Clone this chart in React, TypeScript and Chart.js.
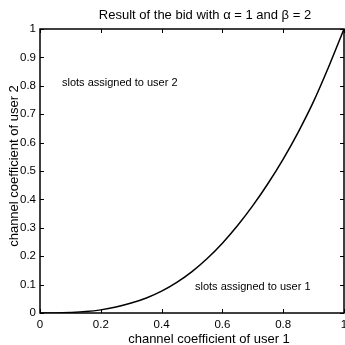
import React, { useEffect, useRef } from "react";
import { Chart, registerables } from "chart.js";

Chart.register(...registerables);

const xValues = [0, 0.05, 0.1, 0.15, 0.2, 0.25, 0.3, 0.35, 0.4, 0.45, 0.5, 0.55, 0.6, 0.65, 0.7, 0.75, 0.8, 0.85, 0.9, 0.95, 1.0];
const yValues = [0, 0.0003, 0.002, 0.005, 0.011, 0.021, 0.035, 0.053, 0.077, 0.108, 0.146, 0.192, 0.246, 0.308, 0.378, 0.456, 0.542, 0.638, 0.745, 0.868, 1.0];

const titleText = "Result of the bid with \u03B1 = 1 and \u03B2 = 2";
const xTitle = "channel coefficient of user 1";
const yTitle = "channel coefficient of user 2";
const note1 = "slots assigned to user 1";
const note2 = "slots assigned to user 2";

const FONT = "'Liberation Sans', Arial, Helvetica, sans-serif";

const fmt = (v: number) => String(Number(v.toFixed(1)));

const decorPlugin = {
  id: "decor",
  afterDraw(chart: any) {
    const ctx = chart.ctx;
    const { left, right, top, bottom } = chart.chartArea;
    const xs = chart.scales.x;
    const ys = chart.scales.y;
    ctx.save();
    ctx.strokeStyle = "#000";
    ctx.lineWidth = 1.5;
    ctx.strokeRect(left, top, right - left, bottom - top);
    ctx.lineWidth = 1;
    const tl = 4;
    ctx.beginPath();
    xs.ticks.forEach((t: any) => {
      const px = Math.round(xs.getPixelForValue(t.value)) + 0.5;
      ctx.moveTo(px, bottom);
      ctx.lineTo(px, bottom - tl);
      ctx.moveTo(px, top);
      ctx.lineTo(px, top + tl);
    });
    ys.ticks.forEach((t: any) => {
      const py = Math.round(ys.getPixelForValue(t.value)) + 0.5;
      ctx.moveTo(left, py);
      ctx.lineTo(left + tl, py);
      ctx.moveTo(right, py);
      ctx.lineTo(right - tl, py);
    });
    ctx.stroke();

    ctx.fillStyle = "#000";
    ctx.textBaseline = "alphabetic";
    ctx.textAlign = "center";
    ctx.font = `13px ${FONT}`;
    ctx.fillText(titleText, 205, 18.5);
    ctx.fillText(xTitle, 209, 343);
    ctx.save();
    ctx.translate(18, 166);
    ctx.rotate(-Math.PI / 2);
    ctx.fillText(yTitle, 0, 0);
    ctx.restore();

    ctx.font = `11px ${FONT}`;
    ctx.textAlign = "left";
    ctx.fillText(note2, 62, 86);
    ctx.fillText(note1, 195, 290);
    ctx.restore();
  },
};

export default function App() {
  const ref = useRef<HTMLCanvasElement>(null);
  useEffect(() => {
    document.body.style.margin = "0";
    const canvas = ref.current!;
    const chart = new Chart(canvas, {
      type: "line",
      data: {
        datasets: [
          {
            data: xValues.map((x, i) => ({ x, y: yValues[i] })),
            borderColor: "#000",
            borderWidth: 1.5,
            pointRadius: 0,
            cubicInterpolationMode: "monotone",
            fill: false,
          },
        ],
      },
      options: {
        responsive: false,
        animation: false,
        layout: { padding: { top: 29, right: 1, left: 0, bottom: 0 } },
        plugins: { legend: { display: false }, title: { display: false }, tooltip: { enabled: false } },
        scales: {
          x: {
            type: "linear",
            min: 0,
            max: 1,
            grid: { display: false, drawTicks: false },
            border: { display: false },
            ticks: {
              stepSize: 0.2,
              padding: 5,
              color: "#000",
              font: { family: FONT, size: 11.5 },
              maxRotation: 0,
              callback: (v: any) => fmt(Number(v)),
            },
            afterFit: (s: any) => {
              s.height = 32;
              s.paddingLeft = 0;
              s.paddingRight = 0;
            },
          },
          y: {
            type: "linear",
            min: 0,
            max: 1,
            grid: { display: false, drawTicks: false },
            border: { display: false },
            ticks: {
              stepSize: 0.1,
              padding: 4,
              color: "#000",
              font: { family: FONT, size: 11.5 },
              callback: (v: any) => fmt(Number(v)),
            },
            afterFit: (s: any) => {
              s.width = 40;
              s.paddingTop = 0;
              s.paddingBottom = 0;
            },
          },
        },
      },
      plugins: [decorPlugin],
    } as any);
    return () => chart.destroy();
  }, []);
  return (
    <div style={{ width: 345, height: 345, background: "#fff" }}>
      <canvas ref={ref} width={345} height={345} />
    </div>
  );
}
